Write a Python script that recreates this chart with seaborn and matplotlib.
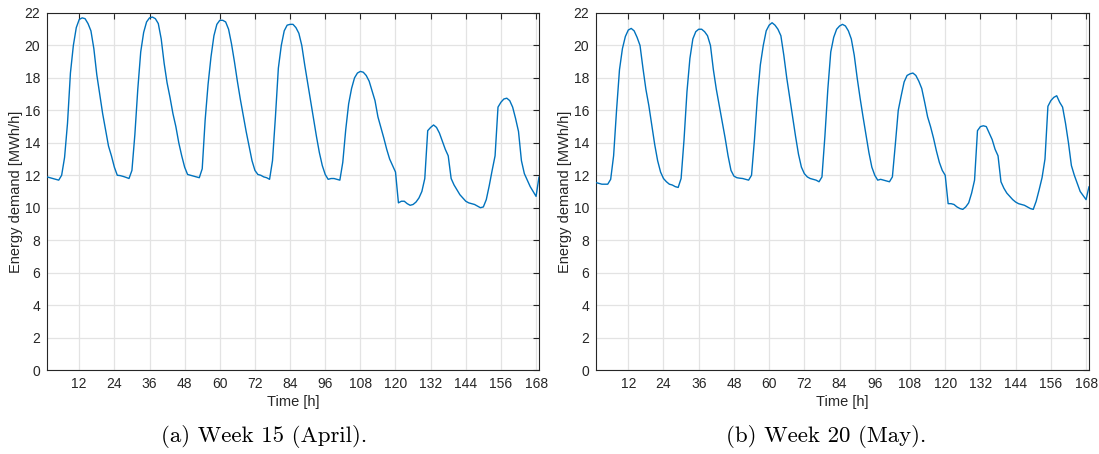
import numpy as np
import pandas as pd
import matplotlib
matplotlib.use("Agg")
import matplotlib.pyplot as plt
import seaborn as sns

# ---------------- data (hourly, hours 1..169) ----------------
hours = list(range(1, 170))

week15 = [
    11.9, 11.85, 11.8, 11.75, 11.7, 12.0, 13.1, 15.2, 18.3, 20.0, 21.1, 21.6,
    21.7, 21.65, 21.35, 20.9, 19.8, 18.2, 17.0, 15.8, 14.8, 13.8, 13.2, 12.5,
    12.0, 11.98, 11.93, 11.87, 11.8, 12.3, 14.5, 17.3, 19.6, 20.8, 21.45, 21.7,
    21.75, 21.65, 21.35, 20.4, 18.9, 17.7, 16.8, 15.8, 15.0, 14.0, 13.2, 12.5,
    12.05, 12.0, 11.95, 11.9, 11.85, 12.4, 15.4, 17.6, 19.3, 20.6, 21.3, 21.55,
    21.55, 21.45, 21.0, 20.1, 19.0, 17.8, 16.7, 15.7, 14.7, 13.8, 12.9, 12.3,
    12.05, 12.0, 11.9, 11.85, 11.75, 12.9, 15.6, 18.6, 20.0, 20.9, 21.25, 21.3,
    21.3, 21.1, 20.75, 20.0, 18.8, 17.7, 16.6, 15.5, 14.4, 13.4, 12.6, 12.05,
    11.75, 11.8, 11.8, 11.75, 11.7, 12.8, 14.8, 16.4, 17.35, 18.0, 18.3, 18.4,
    18.35, 18.15, 17.8, 17.2, 16.6, 15.6, 14.95, 14.3, 13.6, 13.0, 12.6, 12.2,
    10.3, 10.4, 10.4, 10.25, 10.15, 10.2, 10.35, 10.6, 11.0, 11.8, 14.75, 14.95,
    15.1, 14.95, 14.6, 14.1, 13.6, 13.2, 11.8, 11.4, 11.1, 10.8, 10.6, 10.4,
    10.3, 10.25, 10.2, 10.1, 10.0, 10.05, 10.5, 11.35, 12.3, 13.2, 16.2, 16.5,
    16.7, 16.75, 16.6, 16.2, 15.5, 14.7, 12.9, 12.1, 11.7, 11.3, 11.0, 10.7,
    11.9,
]

week20 = [
    11.55, 11.5, 11.45, 11.45, 11.45, 11.75, 13.2, 16.0, 18.5, 19.8, 20.55, 20.95,
    21.05, 20.9, 20.5, 20.0, 18.6, 17.3, 16.3, 15.1, 13.9, 12.9, 12.2, 11.8,
    11.6, 11.45, 11.4, 11.3, 11.25, 11.8, 14.2, 17.15, 19.2, 20.4, 20.85, 21.0,
    21.0, 20.85, 20.6, 20.0, 18.5, 17.3, 16.3, 15.3, 14.3, 13.2, 12.3, 11.95,
    11.85, 11.82, 11.8, 11.75, 11.7, 12.0, 14.2, 16.8, 18.8, 20.0, 20.9, 21.25,
    21.4, 21.25, 21.0, 20.6, 19.4, 18.0, 16.8, 15.6, 14.4, 13.3, 12.5, 12.1,
    11.9, 11.8, 11.75, 11.7, 11.6, 11.9, 14.4, 17.3, 19.6, 20.5, 21.0, 21.2,
    21.3, 21.2, 20.9, 20.4, 19.4, 18.0, 16.75, 15.6, 14.5, 13.4, 12.5, 12.0,
    11.7, 11.75, 11.7, 11.65, 11.6, 11.9, 13.9, 16.0, 16.9, 17.75, 18.15, 18.25,
    18.3, 18.15, 17.8, 17.35, 16.5, 15.6, 15.0, 14.3, 13.5, 12.8, 12.3, 12.0,
    10.25, 10.25, 10.2, 10.05, 9.95, 9.9, 10.05, 10.3, 10.9, 11.7, 14.75, 15.0,
    15.05, 15.0, 14.6, 14.2, 13.6, 13.2, 11.6, 11.2, 10.9, 10.7, 10.5, 10.35,
    10.25, 10.2, 10.15, 10.05, 9.95, 9.9, 10.4, 11.1, 11.85, 13.0, 16.25, 16.6,
    16.8, 16.9, 16.5, 16.2, 15.2, 14.0, 12.6, 12.0, 11.5, 11.0, 10.75, 10.5,
    11.3,
]

x_ticks = list(range(12, 169, 12))
y_ticks = list(range(0, 23, 2))
captions = ["(a) Week 15 (April).", "(b) Week 20 (May)."]
xlabel = "Time [h]"
ylabel = "Energy demand [MWh/h]"

# ---------------- styling ----------------
sns.set_theme(style="white")
plt.rcParams["font.family"] = ["Liberation Sans", "DejaVu Sans"]

DARK = "#262626"
GRIDC = "#e3e3e3"
LINEC = "#0072BD"

fig = plt.figure(figsize=(10.99, 4.54), dpi=100)
axes_rects = [
    [47 / 1099, 1 - 370 / 454, (539 - 47) / 1099, (370 - 13) / 454],
    [596 / 1099, 1 - 370 / 454, (1089 - 596) / 1099, (370 - 13) / 454],
]

for i, (rect, series) in enumerate(zip(axes_rects, [week15, week20])):
    ax = fig.add_axes(rect)
    df = pd.DataFrame({"hour": hours, "demand": series})
    sns.lineplot(data=df, x="hour", y="demand", ax=ax, color=LINEC,
                 linewidth=1.0, zorder=3)
    ax.set_xlim(1, 169)
    ax.set_ylim(0, 22)
    ax.set_xticks(x_ticks)
    ax.set_yticks(y_ticks)
    ax.grid(True, color=GRIDC, linewidth=0.9, zorder=0)
    ax.set_axisbelow(True)
    ax.tick_params(direction="in", length=4.5, width=0.8, colors=DARK,
                   labelsize=10, top=True, right=True,
                   labeltop=False, labelright=False, pad=5)
    for sp in ax.spines.values():
        sp.set_color(DARK)
        sp.set_linewidth(0.8)
    ax.set_xlabel(xlabel, fontsize=10.5, color=DARK, labelpad=3)
    ax.set_ylabel(ylabel, fontsize=10.5, color=DARK, labelpad=1)

fig.text(0.2405, 1 - 437 / 454, captions[0], ha="center", va="center",
         fontsize=16.5, family="cmr10", color="black")
fig.text(0.752, 1 - 437 / 454, captions[1], ha="center", va="center",
         fontsize=16.5, family="cmr10", color="black")

fig.savefig("out.png", dpi=100, facecolor="white")
